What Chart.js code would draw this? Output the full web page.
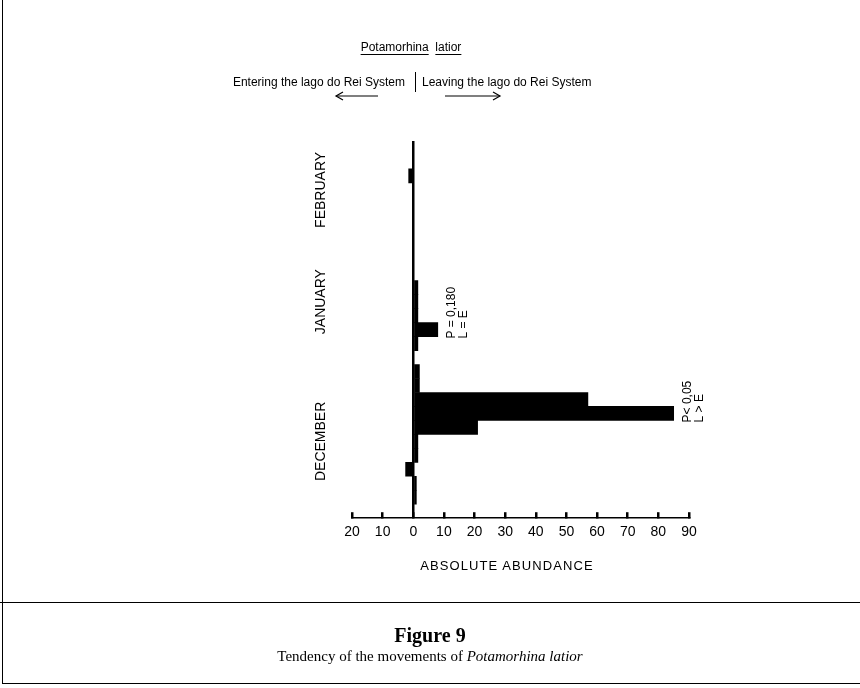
<!DOCTYPE html>
<html lang="en">
<head>
  <meta charset="UTF-8">
  <title>Potamorhina latior - movements</title>
  <script src="https://cdn.jsdelivr.net/npm/chart.js"></script>
  <style>
    body { margin: 0; background: #fff; }
    .page { position: relative; width: 860px; height: 688px; overflow: hidden; font-family: "Liberation Sans", Arial, sans-serif; color: #000; }
    .abs { position: absolute; white-space: nowrap; }
    .chart-box { position: absolute; left: 0; top: 0; width: 860px; height: 600px; }
    .ul { text-decoration: underline; text-underline-offset: 3px; }
    .serif { font-family: "Liberation Serif", "DejaVu Serif", serif; }
  </style>
</head>
<body>
<div class="page">
  <div class="chart-box"><canvas id="moveChart"></canvas></div>

  <div class="abs" style="left:311px; width:200px; top:40px; text-align:center; font-size:12px;">
    <span class="ul">Potamorhina</span>&nbsp; <span class="ul">latior</span>
  </div>
  <div class="abs" style="right:455px; top:75px; font-size:12px;">Entering the lago do Rei System</div>
  <div class="abs" style="left:422px; top:75px; font-size:12px;">Leaving the lago do Rei System</div>
  <div class="abs" style="left:415px; top:72px; width:0; height:20px; border-left:1.5px solid #000;"></div>
  <svg class="abs" style="left:0; top:0;" width="860" height="120">
    <g stroke="#000" stroke-width="1.2" fill="none">
      <line x1="336" y1="96" x2="378" y2="96"/>
      <polyline points="343,92 336,96 343,100"/>
      <line x1="445" y1="96" x2="500" y2="96"/>
      <polyline points="493,92 500,96 493,100"/>
    </g>
  </svg>

  <div class="abs" style="left:357px; width:300px; top:558px; text-align:center; font-size:13px; letter-spacing:1.1px;">ABSOLUTE ABUNDANCE</div>

  <div class="abs" style="left:0; top:602px; width:860px; border-top:1.5px solid #000;"></div>
  <div class="abs" style="left:2px; top:0; height:683px; border-left:1.5px solid #000;"></div>
  <div class="abs" style="left:2px; top:683px; width:858px; border-top:1.5px solid #000;"></div>
  <div class="abs serif" style="left:0; width:860px; top:624px; text-align:center; font-size:20px; font-weight:bold;">Figure 9</div>
  <div class="abs serif" style="left:0; width:860px; top:648px; text-align:center; font-size:15px;">Tendency of the movements of <i>Potamorhina latior</i></div>
</div>

<script>
  // sampling rows, top (latest, February) to bottom (earliest, December)
  const samples = ['S27', 'S26', 'S25', 'S24', 'S23', 'S22', 'S21', 'S20', 'S19',
                   'S18', 'S17', 'S16', 'S15', 'S14', 'S13', 'S12', 'S11', 'S10',
                   'S9', 'S8', 'S7', 'S6', 'S5', 'S4', 'S3', 'S2', 'S1'];
  // negative = entering, positive = leaving
  const abundance = [0, 0, -1.5, 0, 0, 0, 0, 0, 0,
                     0, 1.5, 1.5, 1.5, 8, 1.5, 0, 2, 2,
                     57, 85, 21, 1.5, 1.5, -2.5, 1, 1, 0];
  const tickValues = [-20, -10, 0, 10, 20, 30, 40, 50, 60, 70, 80, 90];
  const months = ['FEBRUARY', 'JANUARY', 'DECEMBER'];
  const monthRows = [3, 11, 21];
  const notes = [
    { row: 13, lines: ['P = 0,180', 'L = E'] },
    { row: 19, lines: ['P< 0,05', 'L > E'] }
  ];

  function rotatedText(ctx, text, x, y, align) {
    ctx.save();
    ctx.translate(x, y);
    ctx.rotate(-Math.PI / 2);
    ctx.textAlign = align;
    ctx.fillText(text, 0, 0);
    ctx.restore();
  }

  const sideText = {
    id: 'sideText',
    afterDraw(chart) {
      const { ctx, chartArea, scales: { x, y } } = chart;
      ctx.save();
      ctx.fillStyle = '#000';
      ctx.textBaseline = 'middle';

      // month names along the left
      ctx.font = '14px "Liberation Sans", Arial, sans-serif';
      months.forEach((m, i) => {
        rotatedText(ctx, m, chartArea.left - 31, y.getPixelForValue(monthRows[i]), 'center');
      });

      // test results next to the bars
      const rowH = y.getPixelForValue(1) - y.getPixelForValue(0);
      ctx.font = '12px "Liberation Sans", Arial, sans-serif';
      notes.forEach(n => {
        const px = x.getPixelForValue(abundance[n.row]) + 14;
        const py = y.getPixelForValue(n.row) + rowH / 2 + 2;
        n.lines.forEach((t, k) => rotatedText(ctx, t, px + k * 12, py, 'left'));
      });
      ctx.restore();
    }
  };

  new Chart(document.getElementById('moveChart'), {
    type: 'bar',
    data: {
      labels: samples,
      datasets: [{
        data: abundance,
        backgroundColor: '#000',
        borderWidth: 0,
        barPercentage: 1,
        categoryPercentage: 1
      }]
    },
    options: {
      indexAxis: 'y',
      responsive: true,
      maintainAspectRatio: false,
      animation: false,
      layout: { padding: { left: 352, right: 171, top: 141, bottom: 47 } },
      scales: {
        x: {
          type: 'linear',
          min: -20,
          max: 90,
          afterBuildTicks: axis => { axis.ticks = tickValues.map(v => ({ value: v })); },
          grid: {
            color: c => (c.tick && c.tick.value === 0) ? '#000' : 'rgba(0,0,0,0)',
            lineWidth: 2.5,
            tickColor: '#000',
            tickLength: -6
          },
          border: { display: true, color: '#000', width: 1.5 },
          ticks: {
            color: '#000',
            padding: 12,
            font: { family: '"Liberation Sans", Arial, sans-serif', size: 14 },
            callback: v => Math.abs(v)
          }
        },
        y: { display: false }
      },
      plugins: { legend: { display: false }, tooltip: { enabled: false } }
    },
    plugins: [sideText]
  });
</script>
</body>
</html>
